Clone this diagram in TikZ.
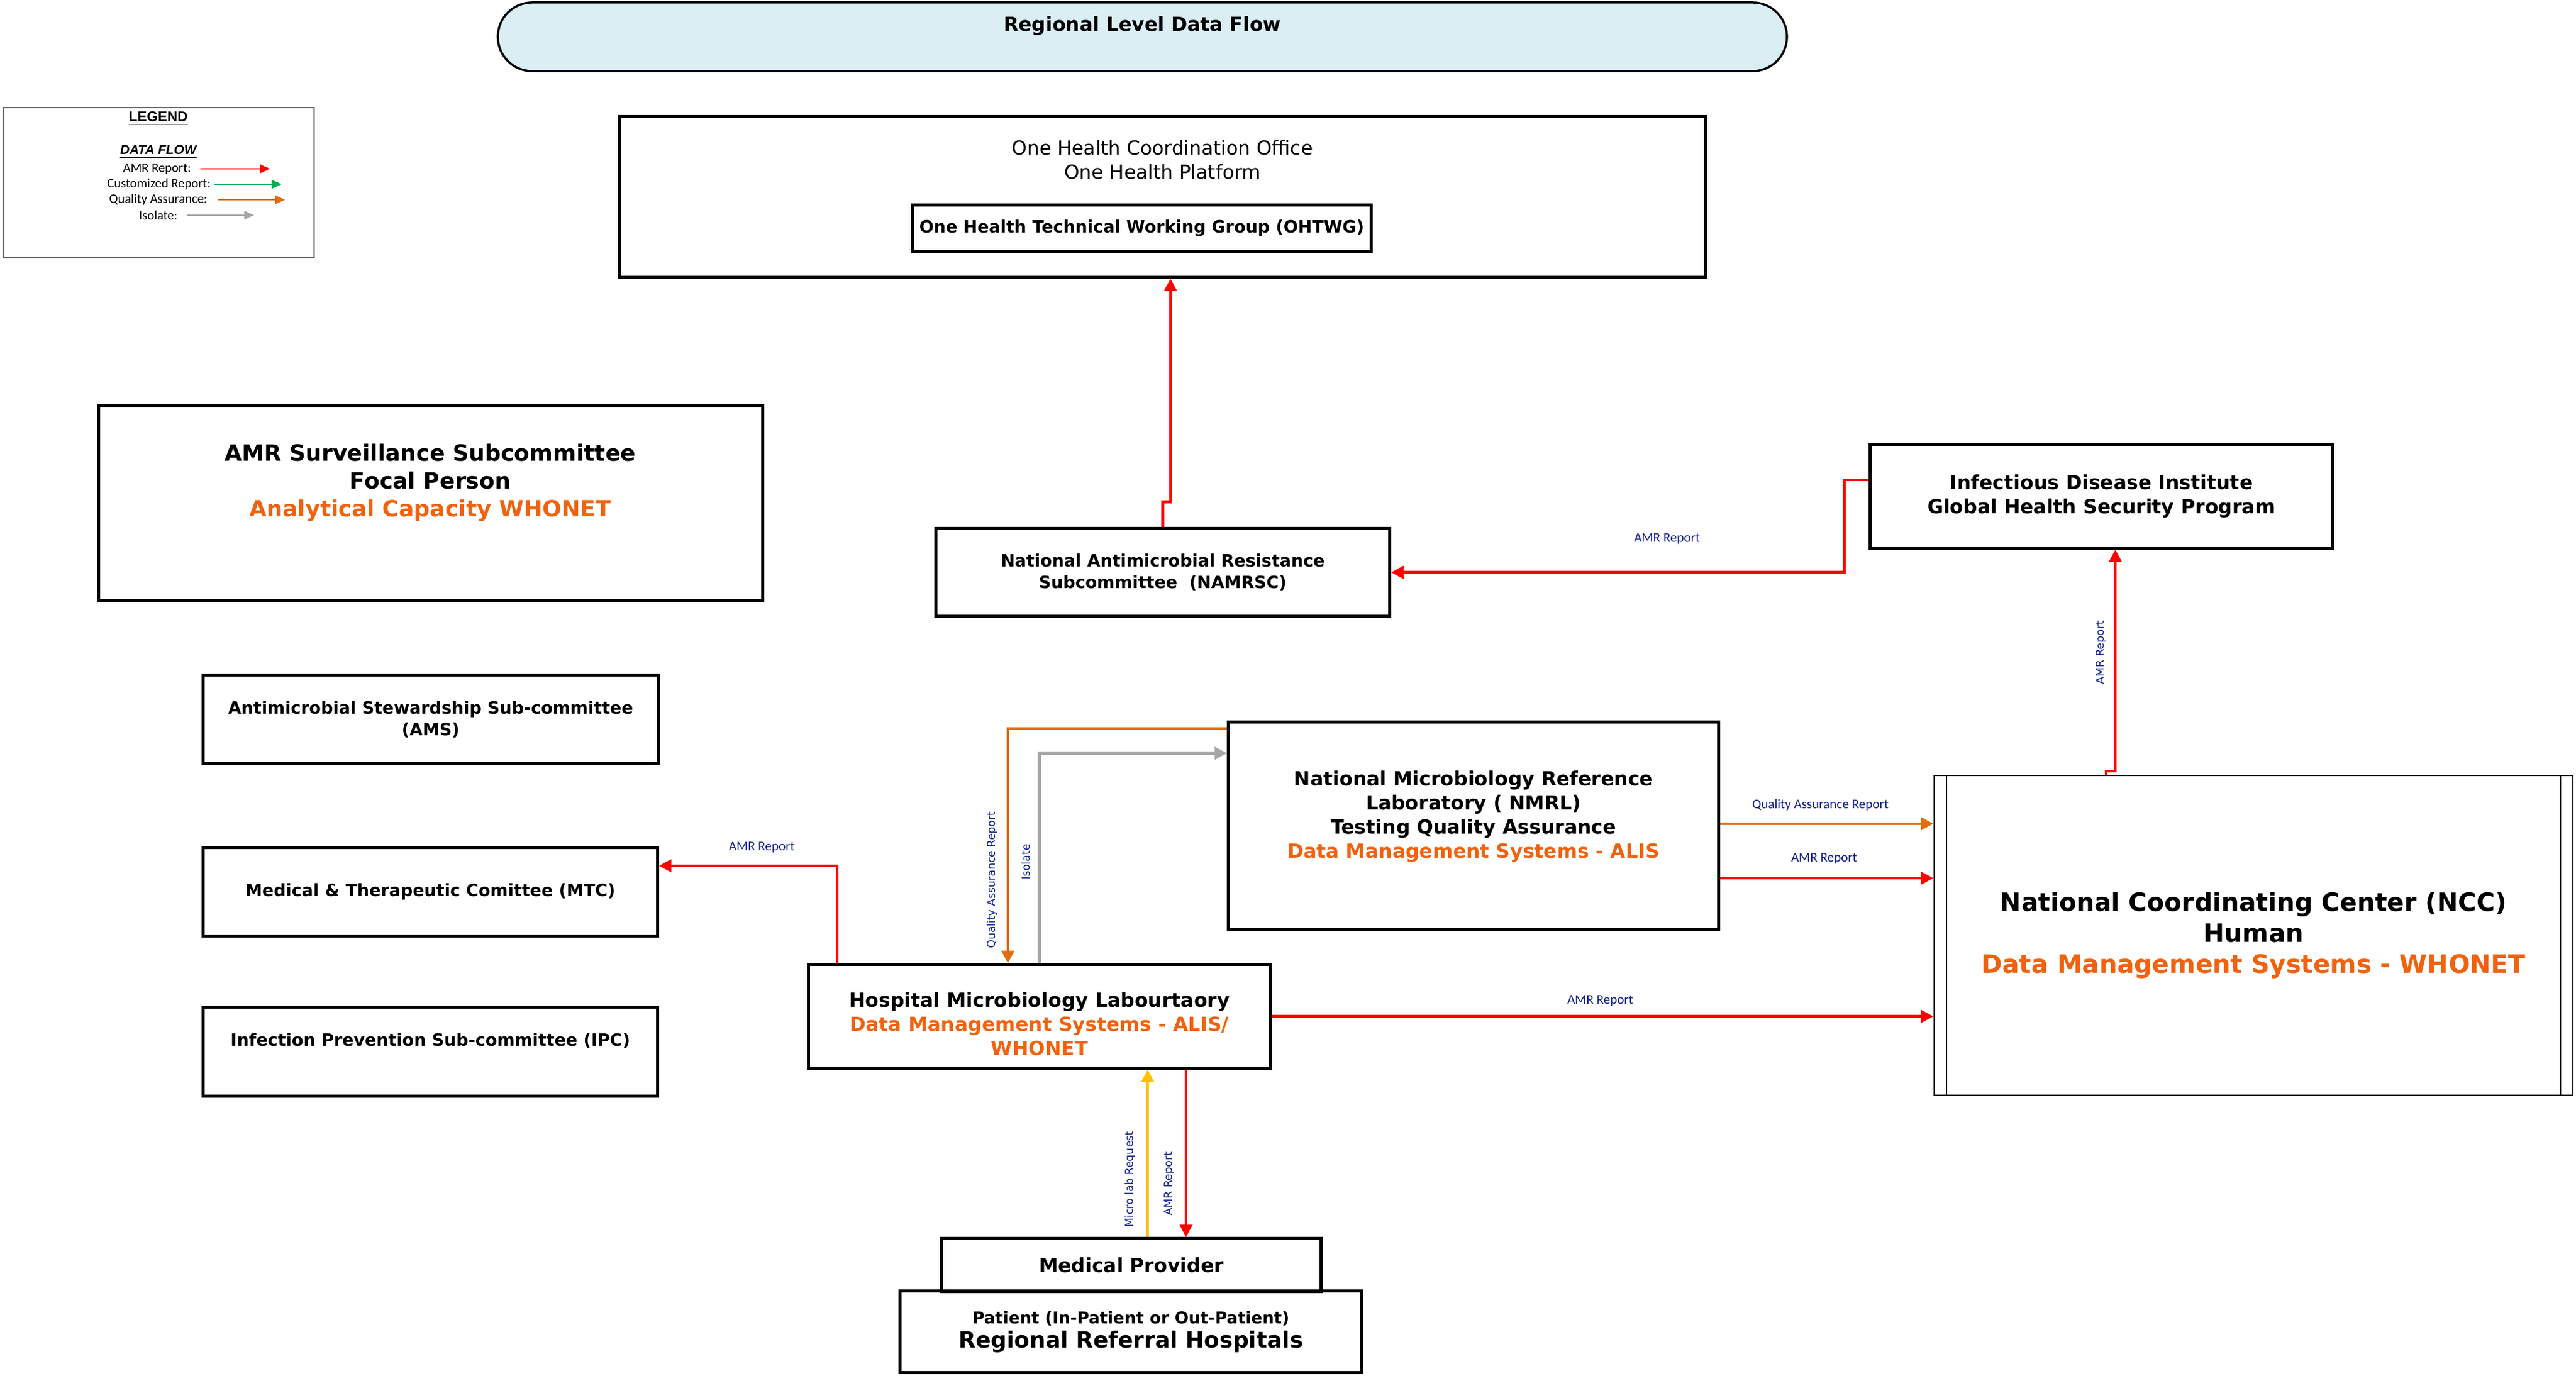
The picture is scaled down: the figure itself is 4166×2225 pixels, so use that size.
\documentclass[tikz,border=0pt]{standalone}
\usepackage{fontspec}
\setmainfont{DejaVu Sans}
\newfontfamily\carlito{Carlito}
\newfontfamily\arial{Liberation Sans}
\usetikzlibrary{arrows.meta,shapes.misc}
\definecolor{bannerblue}{HTML}{DAEEF3}
\definecolor{dmsorange}{HTML}{F0620F}
\definecolor{qaorange}{HTML}{E46C0A}
\definecolor{isogrey}{HTML}{A6A6A6}
\definecolor{reqyellow}{HTML}{FFC000}
\definecolor{legendgreen}{HTML}{00B050}
\definecolor{lblblue}{HTML}{0F1F8F}
\begin{document}
\begin{tikzpicture}[x=0.01cm,y=-0.01cm,
	box/.style={draw,line width=0.05cm,inner sep=0pt,align=center},
	bold27/.style={font=\fontsize{7.8pt}{9.95pt}\selectfont\bfseries,align=center,inner sep=0pt},
	bold31/.style={font=\fontsize{8.96pt}{11.1pt}\selectfont\bfseries,align=center,inner sep=0pt},
	flow/.style={line width=0.045cm,-{Triangle[length=0.2cm,width=0.2cm]}},
	amr/.style={flow,draw=red},
	qa/.style={flow,draw=qaorange},
	iso/.style={flow,draw=isogrey,line width=0.055cm},
	req/.style={flow,draw=reqyellow},
	lbl/.style={font=\carlito\fontsize{6.1pt}{7pt}\selectfont,text=lblblue,inner sep=0pt},
	vlbl/.style={font=\fontsize{4.95pt}{6pt}\selectfont,text=lblblue,inner sep=0pt,rotate=90},
	legtext/.style={font=\carlito\fontsize{5.97pt}{7pt}\selectfont,inner sep=0pt},
	legarrow/.style={line width=0.02cm,-{Triangle[length=0.16cm,width=0.14cm]}}]
	\useasboundingbox (0,0) rectangle (4166,2225);

	\node[rounded rectangle,draw,line width=0.035cm,fill=bannerblue,minimum width=21.07cm,minimum height=1.11cm] (banner) at (1847.5,59.5) {};
	\node[bold31] (title) at (1847.5,42) {Regional Level Data Flow};

	\node[draw=black!70,line width=0.02cm,minimum width=5.03cm,minimum height=2.43cm] (legend) at (256.5,295.5) {};
	\node[font=\arial\bfseries\fontsize{6.5pt}{8pt}\selectfont,inner sep=0pt] (legtitle) at (256,192) {\underline{LEGEND}};
	\node[font=\arial\bfseries\itshape\fontsize{6pt}{8pt}\selectfont,inner sep=0pt] (legflow) at (256,246) {\underline{DATA FLOW}};
	\node[legtext] (legamr) at (254,273) {AMR Report:};
	\draw[legarrow,red] ([xshift=0.14cm]legamr.east) -- ++(113,0);
	\node[legtext] (legcust) at (257,298) {Customized Report:};
	\draw[legarrow,legendgreen] ([xshift=0.06cm]legcust.east) -- ++(108,0);
	\node[legtext] (legqa) at (256,323) {Quality Assurance:};
	\draw[legarrow,qaorange] ([xshift=0.17cm]legqa.east) -- ++(108,0);
	\node[legtext] (legiso) at (256,348) {Isolate:};
	\draw[legarrow,isogrey] ([xshift=0.14cm]legiso.east) -- ++(109,0);

	\node[box,minimum width=17.56cm,minimum height=2.59cm] (oh) at (1880,318.5) {};
	\node[font=\fontsize{8.88pt}{11.1pt}\selectfont,align=center,inner sep=0pt] (ohtext) at (1880,258) {One Health Coordination Office\\One Health Platform};
	\node[box,bold27,minimum width=7.41cm,minimum height=0.74cm] (ohtwg) at (1846.5,369) {One Health Technical Working Group (OHTWG)};

	\node[box,minimum width=10.73cm,minimum height=3.15cm] (amrsc) at (696.5,813.5) {};
	\node[font=\fontsize{10.3pt}{12.8pt}\selectfont\bfseries,align=center,inner sep=0pt] (amrsctext) at (696,781) {AMR Surveillance Subcommittee\\Focal Person\\\textcolor{dmsorange}{Analytical Capacity WHONET}};
	\node[box,bold27,minimum width=7.35cm,minimum height=1.42cm] (ams) at (696.5,1163) {Antimicrobial Stewardship Sub-committee\\(AMS)};
	\node[box,bold27,minimum width=7.34cm,minimum height=1.42cm] (mtc) at (696,1442) {Medical \& Therapeutic Comittee (MTC)};
	\node[box,minimum width=7.34cm,minimum height=1.43cm] (ipc) at (696,1700.5) {};
	\node[bold27] (ipctext) at (696,1683) {Infection Prevention Sub-committee (IPC)};

	\node[box,bold27,minimum width=7.33cm,minimum height=1.41cm] (namrsc) at (1880.5,925.5) {National Antimicrobial Resistance\\Subcommittee~ (NAMRSC)};
	\node[box,bold31,minimum width=7.47cm,minimum height=1.67cm] (idi) at (3398.5,802.5) {Infectious Disease Institute\\Global Health Security Program};

	\node[box,minimum width=7.92cm,minimum height=3.34cm] (nmrl) at (2383,1335) {};
	\node[bold31] (nmrltext) at (2383,1320) {National Microbiology Reference\\Laboratory ( NMRL)\\Testing Quality Assurance\\\textcolor{dmsorange}{Data Management Systems - ALIS}};

	\node[draw,line width=0.02cm,minimum width=10.33cm,minimum height=5.17cm,inner sep=0pt,align=center,font=\fontsize{11.6pt}{14.2pt}\selectfont\bfseries] (ncc) at (3644.5,1512.5) {National Coordinating Center (NCC)\\Human\\\textcolor{dmsorange}{Data Management Systems - WHONET}};
	\draw[line width=0.02cm] ([xshift=0.21cm]ncc.north west) -- ([xshift=0.21cm]ncc.south west);
	\draw[line width=0.02cm] ([xshift=-0.21cm]ncc.north east) -- ([xshift=-0.21cm]ncc.south east);

	\node[box,minimum width=7.46cm,minimum height=1.67cm] (hml) at (1681,1643.5) {};
	\node[bold31] (hmltext) at (1681,1656) {Hospital Microbiology Labourtaory\\\textcolor{dmsorange}{Data Management Systems - ALIS/}\\\textcolor{dmsorange}{WHONET}};

	\node[box,bold31,minimum width=6.13cm,minimum height=0.85cm] (mp) at (1829.5,2045.5) {Medical Provider};
	\node[box,minimum width=7.46cm,minimum height=1.31cm,font=\fontsize{10.25pt}{11.1pt}\selectfont\bfseries] (patient) at (1829,2153.5) {{\fontsize{7.55pt}{9pt}\selectfont Patient (In-Patient or Out-Patient)}\\Regional Referral Hospitals};

	\draw[amr] (namrsc.north) -- ++(0,-41) -| ([xshift=0.13cm]oh.south);
	\draw[amr] ([yshift=0.265cm]idi.west) -- ++(-40,0) |- (namrsc.east);
	\draw[amr] ([xshift=-2.385cm]ncc.north) -- ++(0,-6) -| ([xshift=0.225cm]idi.south);
	\draw[amr] ([xshift=-3.27cm]hml.north) |- ([yshift=0.42cm]mtc.east);
	\draw[qa] ([yshift=1.57cm]nmrl.west) -| ([xshift=-0.51cm]hml.north);
	\draw[iso] (hml.north) |- ([yshift=1.17cm]nmrl.west);
	\coordinate (qapt) at ([yshift=0.03cm]nmrl.east);
	\draw[qa] (qapt) -- (qapt -| ncc.west);
	\coordinate (amrpt) at ([yshift=-0.85cm]nmrl.east);
	\draw[amr] (amrpt) -- (amrpt -| ncc.west);
	\draw[amr] (hml.east) -- (hml.east -| ncc.west);
	\coordinate (reqpt) at ([xshift=0.265cm]mp.north);
	\draw[req] (reqpt) -- (reqpt |- hml.south);
	\coordinate (reppt) at ([xshift=0.885cm]mp.north);
	\draw[amr] (reppt |- hml.south) -- (reppt);

	\node[lbl] (lblidi) at (2696,871) {AMR Report};
	\node[vlbl] (lblncc) at (3398,1055) {AMR Report};
	\node[lbl] (lblmtc) at (1232,1370) {AMR Report};
	\node[vlbl] (lblqa) at (1605,1423) {Quality Assurance Report};
	\node[vlbl] (lbliso) at (1659,1394) {Isolate};
	\node[lbl] (lblnccqa) at (2944,1302) {Quality Assurance Report};
	\node[lbl] (lblnccamr) at (2950,1388) {AMR Report};
	\node[lbl] (lblhml) at (2588,1618) {AMR Report};
	\node[vlbl] (lblreq) at (1828,1907) {Micro lab Request};
	\node[vlbl] (lblrep) at (1891,1914) {AMR Report};
\end{tikzpicture}
\end{document}
